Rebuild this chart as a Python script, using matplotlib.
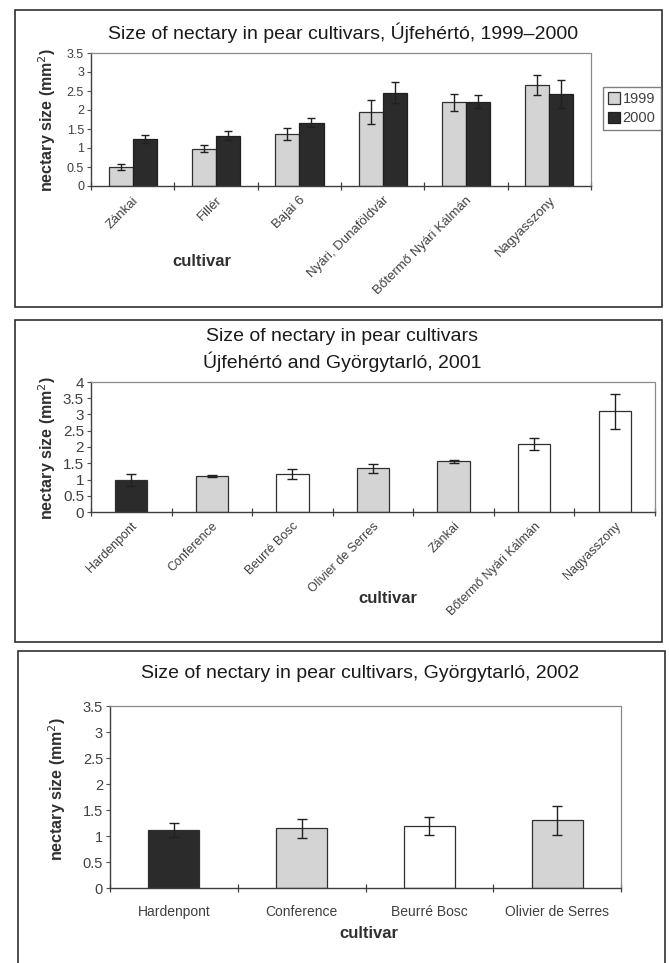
import matplotlib
matplotlib.use("Agg")
import matplotlib.pyplot as plt
from matplotlib.patches import Rectangle
from matplotlib.ticker import FixedLocator, NullFormatter

plt.rcParams['font.family'] = ['Liberation Sans', 'DejaVu Sans']

# ---------------- data ----------------
cult1 = ["Zánkai", "Fillér", "Bajai 6", "Nyári, Dunaföldvár", "Bőtermő Nyári Kálmán", "Nagyasszony"]
v1999 = [0.51, 0.98, 1.37, 1.95, 2.20, 2.66]
e1999 = [0.08, 0.09, 0.15, 0.31, 0.22, 0.27]
v2000 = [1.23, 1.32, 1.66, 2.46, 2.22, 2.42]
e2000 = [0.11, 0.12, 0.12, 0.27, 0.18, 0.37]

cult2 = ["Hardenpont", "Conference", "Beurré Bosc", "Olivier de Serres", "Zánkai",
         "Bőtermő Nyári Kálmán", "Nagyasszony"]
v2001 = [0.98, 1.11, 1.17, 1.34, 1.56, 2.10, 3.10]
e2001 = [0.18, 0.04, 0.16, 0.13, 0.05, 0.18, 0.54]
col2001 = ["dark", "grey", "white", "grey", "grey", "white", "white"]

cult3 = ["Hardenpont", "Conference", "Beurré Bosc", "Olivier de Serres"]
v2002 = [1.12, 1.15, 1.19, 1.30]
e2002 = [0.13, 0.18, 0.18, 0.28]
col2002 = ["dark", "grey", "white", "grey"]

titles = ["Size of nectary in pear cultivars, Újfehértó, 1999–2000",
          "Size of nectary in pear cultivars\nÚjfehértó and Györgytarló, 2001",
          "Size of nectary in pear cultivars, Györgytarló, 2002"]
ylabel = "nectary size (mm$^2$)"
xlabel = "cultivar"
legend_labels = ["1999", "2000"]

# ---------------- styling ----------------
W, H = 669, 963
fig = plt.figure(figsize=(W / 100, H / 100), dpi=100)
FILL = {"dark": "#2b2b2b", "grey": "#d4d4d4", "white": "#ffffff"}
TICKC = "#505050"


def ax_px(l, t, r, b):
    return fig.add_axes([l / W, 1 - b / H, (r - l) / W, (b - t) / H])


def ftext(x, y, s, **kw):
    fig.text(x / W, 1 - y / H, s, **kw)


def frame(l, t, r, b):
    fig.patches.append(Rectangle((l / W, 1 - b / H), (r - l) / W, (b - t) / H,
                                 transform=fig.transFigure, fill=False,
                                 edgecolor="#303030", linewidth=1.2))


def style_axes(ax, n, ymax, yticks, ysize):
    ax.set_xlim(-0.5, n - 0.5)
    ax.set_ylim(0, ymax)
    for s in ("top", "right"):
        ax.spines[s].set_linestyle((0, (1, 1)))
        ax.spines[s].set_color("#8a8a8a")
        ax.spines[s].set_linewidth(0.9)
    for s in ("left", "bottom"):
        ax.spines[s].set_color("#404040")
        ax.spines[s].set_linewidth(1.0)
    ax.set_yticks(yticks)
    ax.set_yticklabels([("%g" % t) for t in yticks])
    ax.tick_params(axis="y", direction="out", length=3, colors=TICKC,
                   labelsize=ysize, pad=2, labelcolor="#404040")
    ax.xaxis.set_minor_locator(FixedLocator([i + 0.5 for i in range(-1, n)]))
    ax.xaxis.set_minor_formatter(NullFormatter())
    ax.tick_params(axis="x", which="minor", direction="inout", length=6,
                   color="#404040", width=0.9)
    ax.tick_params(axis="x", which="major", length=0, labelcolor="#404040")


# ---------------- panel 1 ----------------
frame(15, 10, 662, 307)
ax1 = ax_px(91, 53, 591, 186)
x1 = list(range(len(cult1)))
bw = 0.29
b99 = ax1.bar([x - bw / 2 for x in x1], v1999, bw, color=FILL["grey"],
              edgecolor="#303030", linewidth=0.9, label=legend_labels[0])
b00 = ax1.bar([x + bw / 2 for x in x1], v2000, bw, color=FILL["dark"],
              edgecolor="#202020", linewidth=0.9, label=legend_labels[1])
ax1.errorbar([x - bw / 2 for x in x1], v1999, yerr=e1999, fmt="none",
             ecolor="#202020", elinewidth=1.0, capsize=3, capthick=1.0)
ax1.errorbar([x + bw / 2 for x in x1], v2000, yerr=e2000, fmt="none",
             ecolor="#202020", elinewidth=1.0, capsize=3, capthick=1.0)
style_axes(ax1, len(cult1), 3.5, [0, 0.5, 1, 1.5, 2, 2.5, 3, 3.5], 9)
ax1.set_xticks(x1)
ax1.set_xticklabels(cult1, rotation=45, ha="right", rotation_mode="anchor",
                    fontsize=9.5)
ax1.tick_params(axis="x", which="major", pad=6)
leg = fig.legend(handles=[b99, b00], labels=legend_labels,
                 loc="upper left", bbox_to_anchor=(603 / W, 1 - 87 / H),
                 frameon=True, fancybox=False, edgecolor="#606060",
                 fontsize=10.5, handlelength=0.8, handleheight=0.8,
                 handletextpad=0.2, borderpad=0.35, labelspacing=0.35,
                 borderaxespad=0)
for t in leg.get_texts():
    t.set_color("#404040")
ftext(343, 33, titles[0], ha="center", va="center", fontsize=14,
      color="#1a1a1a")
ftext(47, 120, ylabel, ha="center", va="center", rotation=90, fontsize=11.5,
      fontweight="bold", color="#303030")
ftext(202, 262, xlabel, ha="center", va="center", fontsize=12,
      fontweight="bold", color="#303030")

# ---------------- panel 2 ----------------
frame(15, 320, 662, 642)
ax2 = ax_px(91, 382, 655, 512)
x2 = list(range(len(cult2)))
ax2.bar(x2, v2001, 0.4, color=[FILL[c] for c in col2001],
        edgecolor="#303030", linewidth=0.9)
ax2.errorbar(x2, v2001, yerr=e2001, fmt="none", ecolor="#202020",
             elinewidth=1.0, capsize=3.5, capthick=1.0)
style_axes(ax2, len(cult2), 4, [0, 0.5, 1, 1.5, 2, 2.5, 3, 3.5, 4], 11)
ax2.set_xticks(x2)
ax2.set_xticklabels(cult2, rotation=45, ha="right", rotation_mode="anchor",
                    fontsize=9)
ax2.tick_params(axis="x", which="major", pad=6)
ftext(342, 350, titles[1], ha="center", va="center", fontsize=14,
      color="#1a1a1a", linespacing=1.35)
ftext(47, 448, ylabel, ha="center", va="center", rotation=90, fontsize=11.5,
      fontweight="bold", color="#303030")
ftext(388, 598, xlabel, ha="center", va="center", fontsize=12,
      fontweight="bold", color="#303030")

# ---------------- panel 3 ----------------
frame(18, 651, 665, 975)
ax3 = ax_px(110, 706, 621, 888)
x3 = list(range(len(cult3)))
ax3.bar(x3, v2002, 0.4, color=[FILL[c] for c in col2002],
        edgecolor="#303030", linewidth=0.9)
ax3.errorbar(x3, v2002, yerr=e2002, fmt="none", ecolor="#202020",
             elinewidth=1.0, capsize=3.5, capthick=1.0)
style_axes(ax3, len(cult3), 3.5, [0, 0.5, 1, 1.5, 2, 2.5, 3, 3.5], 10.5)
ax3.set_xticks(x3)
ax3.set_xticklabels(cult3, fontsize=10)
ax3.tick_params(axis="x", which="major", pad=12)
ftext(360, 673, titles[2], ha="center", va="center", fontsize=14,
      color="#1a1a1a")
ftext(57, 789, ylabel, ha="center", va="center", rotation=90, fontsize=11.5,
      fontweight="bold", color="#303030")
ftext(369, 933, xlabel, ha="center", va="center", fontsize=12,
      fontweight="bold", color="#303030")

fig.savefig("out.png", dpi=100, facecolor="white")
